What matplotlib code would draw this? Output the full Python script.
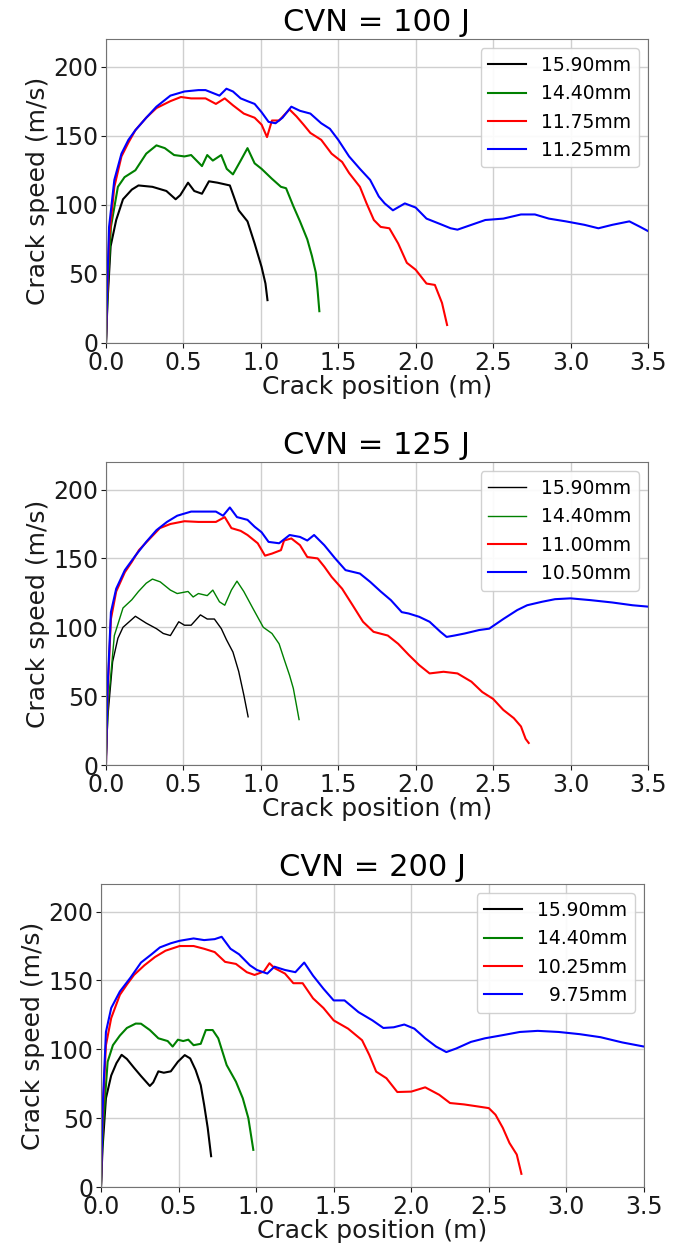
import numpy as np
import matplotlib.pyplot as plt

# ---- datos ----
titles = ['CVN = 100 J', 'CVN = 125 J', 'CVN = 200 J']
labels = [['15.90mm', '14.40mm', '11.75mm', '11.25mm'],
          ['15.90mm', '14.40mm', '11.00mm', '10.50mm'],
          ['15.90mm', '14.40mm', '10.25mm', '  9.75mm']]
colors = ['black', 'green', 'red', 'blue']

# CVN = 100 J
x100_k = [0, 0.01, 0.03, 0.066, 0.11, 0.167, 0.21, 0.30, 0.39, 0.45, 0.48, 0.53, 0.57, 0.62, 0.665,
          0.72, 0.80, 0.857, 0.914, 0.96, 1.005, 1.03, 1.043]
y100_k = [0, 30, 70, 89, 104, 111, 114, 113, 110, 104, 107, 116, 110, 108, 117,
          116, 114, 96, 88, 72, 55, 43, 31]
x100_g = [0, 0.012, 0.032, 0.077, 0.12, 0.19, 0.26, 0.326, 0.38, 0.44, 0.507, 0.55, 0.62, 0.654,
          0.69, 0.744, 0.78, 0.82, 0.87, 0.914, 0.96, 1.005, 1.07, 1.13, 1.163, 1.21, 1.253, 1.30,
          1.33, 1.355, 1.366, 1.378]
y100_g = [0, 40, 84, 113, 120, 125, 137, 143, 141, 136, 135, 136, 128, 136,
          132, 136, 126, 122, 132, 141, 130, 126, 119, 113, 112, 99, 88, 75,
          63, 51, 39, 23]
x100_r = [0, 0.008, 0.02, 0.054, 0.10, 0.145, 0.19, 0.26, 0.326, 0.416, 0.484, 0.55, 0.643, 0.71,
          0.767, 0.82, 0.89, 0.96, 1.005, 1.04, 1.072, 1.118, 1.185, 1.23, 1.276, 1.32, 1.39,
          1.457, 1.525, 1.57, 1.64, 1.683, 1.73, 1.774, 1.83, 1.887, 1.943, 2.0, 2.07, 2.124,
          2.17, 2.203]
y100_r = [0, 35, 75, 113, 135, 145, 154, 163, 170, 175, 178, 177, 177, 173,
          177, 172, 166, 163, 158, 149, 161, 161, 169, 164, 158, 152, 147,
          137, 131, 123, 113, 101, 89, 84, 83, 72, 58, 53, 43, 42,
          29, 13]
x100_b = [0, 0.008, 0.02, 0.054, 0.10, 0.145, 0.19, 0.26, 0.326, 0.416, 0.507, 0.597, 0.643, 0.733,
          0.778, 0.82, 0.87, 0.914, 0.96, 1.005, 1.05, 1.095, 1.14, 1.197, 1.253, 1.32, 1.39,
          1.446, 1.50, 1.57, 1.64, 1.706, 1.762, 1.80, 1.853, 1.93, 2.0, 2.07, 2.16, 2.226,
          2.27, 2.36, 2.45, 2.566, 2.68, 2.77, 2.86, 2.97, 3.09, 3.18, 3.27, 3.38, 3.45, 3.5]
y100_b = [0, 40, 84, 118, 137, 147, 154, 163, 171, 179, 182, 183, 183, 179,
          184, 182, 177, 175, 173, 167, 160, 159, 163, 171, 168, 166, 159,
          155, 147, 135, 126, 118, 106, 101, 96, 101, 98, 90, 86, 83,
          82, 85.5, 89, 90, 93, 93, 90, 88, 85.5, 83, 85.5, 88, 84, 81]

# CVN = 125 J
x125_k = [0, 0.012, 0.043, 0.077, 0.11, 0.19, 0.26, 0.326, 0.37, 0.416, 0.47, 0.507, 0.55, 0.61,
          0.654, 0.70, 0.745, 0.778, 0.82, 0.857, 0.89, 0.918]
y125_k = [0, 35, 75, 92, 100, 108, 103, 99, 95.5, 94, 104, 101.5, 101.5, 109,
          106, 106, 99, 91, 82, 68, 51, 35]
x125_g = [0, 0.015, 0.054, 0.11, 0.167, 0.21, 0.26, 0.30, 0.35, 0.416, 0.46, 0.53, 0.563, 0.597,
          0.654, 0.69, 0.733, 0.767, 0.81, 0.846, 0.89, 0.95, 1.016, 1.072, 1.118, 1.15, 1.186,
          1.21, 1.23, 1.247]
y125_g = [0, 45, 94, 114, 120, 126, 132, 135, 133, 127, 124.5, 126, 122, 124.5,
          123, 127, 118.5, 116, 127, 133.5, 126, 113.5, 100, 95.5, 88, 77, 65,
          55.6, 43.5, 33]
x125_r = [0, 0.01, 0.032, 0.066, 0.122, 0.167, 0.213, 0.28, 0.348, 0.416, 0.507, 0.597, 0.71, 0.767,
          0.81, 0.87, 0.914, 0.98, 1.027, 1.072, 1.13, 1.15, 1.197, 1.253, 1.30, 1.367, 1.41,
          1.457, 1.525, 1.593, 1.66, 1.728, 1.82, 1.887, 1.955, 2.023, 2.09, 2.18, 2.27, 2.36,
          2.43, 2.5, 2.566, 2.634, 2.68, 2.71, 2.73]
y125_r = [0, 50, 106, 126, 140, 147.5, 156, 164, 172, 175, 177, 176.5, 176.5, 180,
          172, 170, 167, 161, 152, 153.5, 156, 163, 164.5, 159.6, 151, 150, 144,
          136.6, 128, 116, 104, 96.7, 94, 88, 80, 72.5, 66.5, 67.7, 66.5, 60.5,
          53, 48, 40, 34, 28, 19, 16]
x125_b = [0, 0.01, 0.032, 0.066, 0.122, 0.19, 0.26, 0.326, 0.394, 0.46, 0.55, 0.643, 0.71, 0.756,
          0.80, 0.846, 0.914, 0.96, 1.005, 1.05, 1.118, 1.186, 1.253, 1.30, 1.344, 1.41, 1.48,
          1.547, 1.64, 1.706, 1.774, 1.84, 1.91, 1.955, 2.023, 2.09, 2.16, 2.2, 2.25, 2.317,
          2.41, 2.475, 2.566, 2.656, 2.72, 2.815, 2.9, 3.0, 3.13, 3.27, 3.4, 3.5]
y125_b = [0, 55, 111, 128, 141.5, 152, 162, 170.5, 176.5, 181, 184, 184, 184, 181,
          187, 180, 178, 173, 169, 162, 161, 167, 165.6, 163, 167, 159.6, 150,
          141.5, 139, 133, 126, 119.7, 111, 110, 107.6, 104, 96.7, 93, 94, 95.5,
          98, 99, 106, 112.5, 116, 118.5, 120.4, 121, 119.7, 118, 116, 115]

# CVN = 200 J
x200_k = [0, 0.01, 0.032, 0.066, 0.10, 0.133, 0.167, 0.213, 0.258, 0.315, 0.337, 0.37, 0.405, 0.45,
          0.496, 0.54, 0.575, 0.61, 0.643, 0.665, 0.688, 0.71]
y200_k = [0, 28, 64.5, 81, 90, 96, 93, 86.6, 80.6, 73.4, 76, 84, 83, 84,
          91, 95.8, 93.4, 85, 74, 59.7, 43, 22.4]
x200_g = [0, 0.012, 0.043, 0.077, 0.122, 0.167, 0.224, 0.258, 0.315, 0.37, 0.43, 0.462, 0.496, 0.53,
          0.563, 0.597, 0.643, 0.676, 0.72, 0.756, 0.81, 0.87, 0.914, 0.95, 0.982]
y200_g = [0, 42, 91, 103, 110, 115.5, 118.7, 118.6, 114, 108, 106, 102, 107, 106,
          107, 103, 104, 114, 114, 108, 88.6, 76.5, 64.5, 50, 27]
x200_r = [0, 0.01, 0.032, 0.066, 0.122, 0.167, 0.213, 0.28, 0.348, 0.416, 0.507, 0.597, 0.665, 0.733,
          0.80, 0.87, 0.94, 0.99, 1.05, 1.086, 1.118, 1.186, 1.24, 1.30, 1.367, 1.434, 1.5,
          1.593, 1.683, 1.73, 1.774, 1.84, 1.91, 2.0, 2.09, 2.18, 2.25, 2.34, 2.43, 2.5,
          2.543, 2.59, 2.633, 2.68, 2.71]
y200_r = [0, 50, 103, 122.7, 139.6, 147, 154, 161, 167, 171.6, 175, 175, 173, 170.6,
          163.5, 162, 156, 154, 156.5, 162.5, 159, 155, 148, 148, 137, 130, 121,
          115, 106.6, 95.8, 83.8, 79, 69, 69.3, 72.4, 67, 61, 60, 58.5, 57.3,
          52.5, 43, 32, 23.6, 9.6]
x200_b = [0, 0.01, 0.032, 0.066, 0.122, 0.19, 0.258, 0.326, 0.38, 0.45, 0.507, 0.597, 0.665, 0.733,
          0.778, 0.835, 0.89, 0.96, 1.005, 1.072, 1.118, 1.186, 1.253, 1.31, 1.367, 1.434, 1.5,
          1.57, 1.66, 1.75, 1.82, 1.887, 1.955, 2.02, 2.09, 2.16, 2.226, 2.29, 2.385, 2.475,
          2.59, 2.7, 2.815, 2.95, 3.086, 3.22, 3.36, 3.5]
y200_b = [0, 55, 112.6, 130, 142, 152, 163, 169, 174, 177, 178.8, 180.5, 179.3, 180,
          181.7, 173, 169, 161, 157.6, 155, 160, 157.6, 156, 163, 153.5, 144, 135.5,
          135.5, 127, 121, 115.5, 116, 118, 115, 108, 102, 98, 100.6, 105.4, 108,
          110.3, 112.6, 113.4, 112.6, 111, 108.8, 105, 102]

panels = [
    [(x100_k, y100_k), (x100_g, y100_g), (x100_r, y100_r), (x100_b, y100_b)],
    [(x125_k, y125_k), (x125_g, y125_g), (x125_r, y125_r), (x125_b, y125_b)],
    [(x200_k, y200_k), (x200_g, y200_g), (x200_r, y200_r), (x200_b, y200_b)],
]

# posiciones de los ejes en la figura (fracciones)
posiciones = [[0.1547, 0.7254, 0.7912, 0.2434],
              [0.1547, 0.3875, 0.7912, 0.2426],
              [0.1474, 0.0496, 0.7927, 0.2426]]
anchos = [[1.5, 1.5, 1.5, 1.5],
          [1.0, 1.0, 1.5, 1.5],
          [1.5, 1.5, 1.5, 1.5]]

fig = plt.figure(figsize=(6.85, 12.49), dpi=100)

for i in range(3):
    ax = fig.add_axes(posiciones[i])
    for j, (xs, ys) in enumerate(panels[i]):
        ax.plot(xs, ys, color=colors[j], lw=anchos[i][j], label=labels[i][j])
    ax.set_xlim(0, 3.5)
    ax.set_ylim(0, 220)
    ax.set_xticks(np.arange(0, 3.51, 0.5))
    ax.set_yticks([0, 50, 100, 150, 200])
    ax.set_xticklabels(['%.1f' % v for v in np.arange(0, 3.51, 0.5)])
    ax.tick_params(labelsize=17, colors='0.1', pad=2)
    ax.grid(True, color='#cfcfcf', lw=1.0)
    for s in ax.spines.values():
        s.set_color('0.45')
    ax.set_xlabel('Crack position (m)', fontsize=18, labelpad=0, color='0.1')
    ax.set_ylabel('Crack speed (m/s)', fontsize=18, labelpad=2, color='0.1')
    ax.set_title(titles[i], fontsize=22, pad=6)
    ax.legend(loc='upper right', fontsize=13.5, framealpha=0.9)

fig.savefig('out.png', dpi=100)
